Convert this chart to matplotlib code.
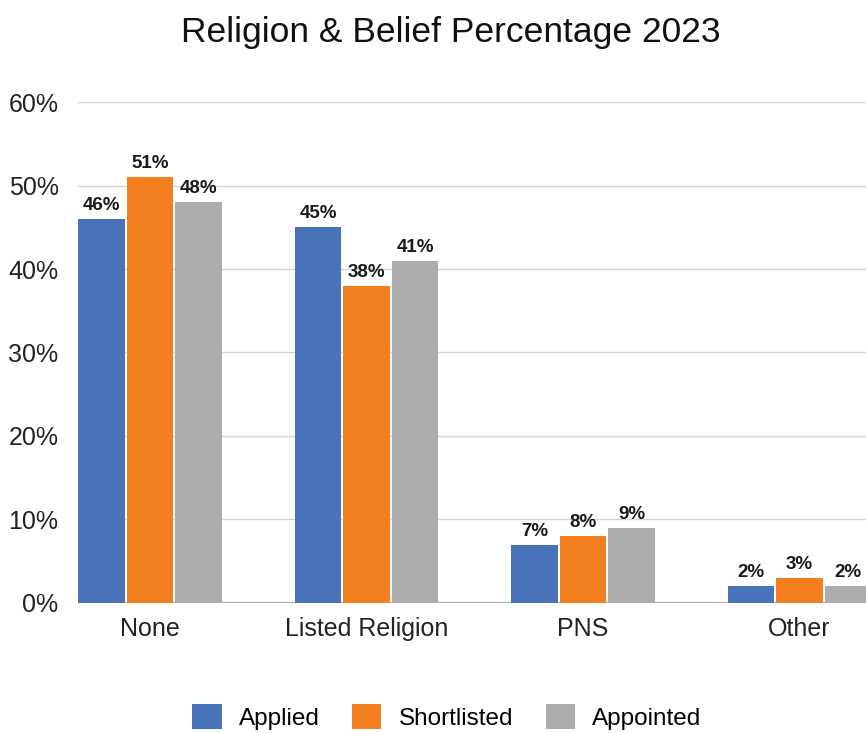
import numpy as np
import matplotlib.pyplot as plt
from matplotlib.patches import Patch
from matplotlib.ticker import FuncFormatter

plt.rcParams["font.family"] = ["Liberation Sans", "DejaVu Sans"]

categories = ["None", "Listed Religion", "PNS", "Other"]
series_names = ["Applied", "Shortlisted", "Appointed"]
applied = [46, 45, 7, 2]
shortlisted = [51, 38, 8, 3]
appointed = [48, 41, 9, 2]
colors = ["#4a74b9", "#f47f20", "#acacac"]

fig = plt.figure(figsize=(8.66, 7.33), dpi=100)
ax = fig.add_axes([0.0901, 0.1774, 0.9099, 0.6834])

x = np.arange(len(categories))
width = 0.215
step = 0.224
for k, (vals, col) in enumerate(zip([applied, shortlisted, appointed], colors)):
    pos = x + (k - 1) * step
    bars = ax.bar(pos, vals, width=width, color=col, zorder=3)
    for b, v in zip(bars, vals):
        ax.text(b.get_x() + b.get_width() / 2, v + 0.6, f"{v}%",
                ha="center", va="bottom", fontsize=13.5, fontweight="bold",
                color="#1a1a1a", zorder=4)

ax.set_xlim(-0.333, 3.307)
ax.set_ylim(0, 60)
ax.set_yticks(range(0, 61, 10))
ax.yaxis.set_major_formatter(FuncFormatter(lambda v, _: f"{int(v)}%"))
ax.set_xticks(x)
ax.set_xticklabels(categories)
ax.tick_params(axis="both", length=0, labelsize=18, colors="#222222")
ax.tick_params(axis="y", pad=14)
ax.tick_params(axis="x", pad=10)

ax.grid(axis="y", color="#d4d4d4", linewidth=1.0, zorder=0)
for s in ax.spines.values():
    s.set_visible(False)
ax.axhline(0, color="#b0b0b0", linewidth=1.6, zorder=2)

fig.suptitle("Religion & Belief Percentage 2023", x=0.52, y=0.978,
             fontsize=25.5, va="top", color="#111111")

handles = [Patch(facecolor=c, edgecolor="none") for c in colors]
fig.legend(handles, series_names, loc="center", bbox_to_anchor=(0.516, 0.022),
           ncol=3, frameon=False, fontsize=17.5, handlelength=1.2, handleheight=1.2,
           handletextpad=0.7, columnspacing=1.35)

fig.savefig("out.png", dpi=100)
